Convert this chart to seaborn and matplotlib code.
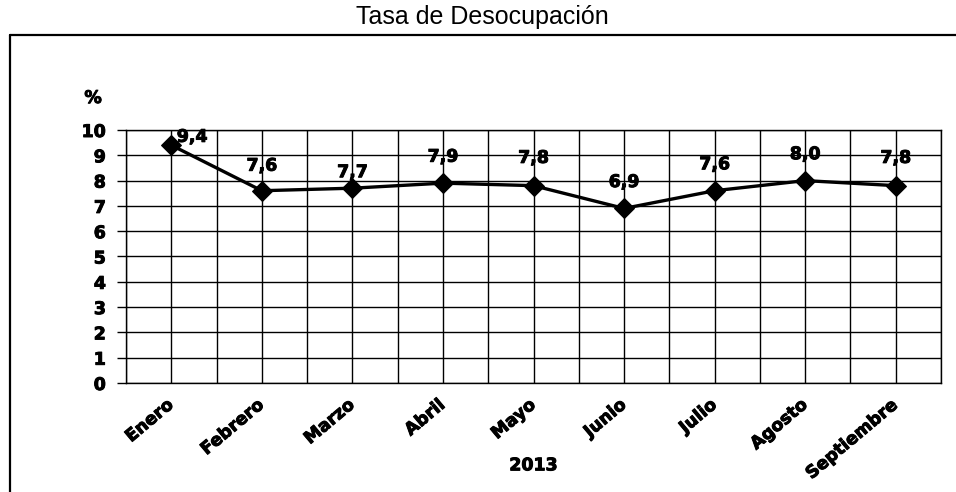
import matplotlib
matplotlib.use('Agg')
import matplotlib.pyplot as plt
import matplotlib.patheffects as pe
import seaborn as sns
import pandas as pd
from matplotlib.lines import Line2D
from matplotlib.ticker import FixedLocator

meses = ['Enero', 'Febrero', 'Marzo', 'Abril', 'Mayo', 'Junio',
         'Julio', 'Agosto', 'Septiembre']
tasa = [9.4, 7.6, 7.7, 7.9, 7.8, 6.9, 7.6, 8.0, 7.8]
etiquetas = ['9,4', '7,6', '7,7', '7,9', '7,8', '6,9', '7,6', '8,0', '7,8']
y_ticks = list(range(0, 11))

# offsets of the value labels, in points
label_offsets = [(15, 6), (0, 18), (0, 11.5), (0, 19), (0, 20),
                 (0, 19), (0, 19), (0, 19), (0, 20)]

sns.set_style('white')
plt.rcParams['font.family'] = ['DejaVu Sans']
plt.rcParams['text.color'] = 'black'
plt.rcParams['xtick.color'] = 'black'
plt.rcParams['ytick.color'] = 'black'
plt.rcParams['axes.labelcolor'] = 'black'

heavy = [pe.withStroke(linewidth=0.7, foreground='black')]
FS = 12.5

W, H = 956, 492
fig = plt.figure(figsize=(W / 100, H / 100), dpi=100)
ax = fig.add_axes([126 / W, 1 - 383 / H, (941 - 126) / W, (383 - 130) / H])

df = pd.DataFrame({'mes': meses, 'tasa': tasa})
sns.lineplot(data=df, x='mes', y='tasa', sort=False, ax=ax, color='black',
             linewidth=2.4, marker='D', markersize=10, markeredgecolor='black')

for i, (v, lab) in enumerate(zip(tasa, etiquetas)):
    ax.annotate(lab, (i, v), xytext=label_offsets[i], textcoords='offset points',
                ha='center', va='center', fontsize=FS, fontweight='bold',
                path_effects=heavy)

ax.set_xlim(-0.5, len(meses) - 0.5)
ax.set_ylim(0, 10)
ax.set_yticks(y_ticks)
ax.set_yticklabels([str(t) for t in y_ticks], fontsize=FS, fontweight='bold')
ax.xaxis.set_minor_locator(FixedLocator([i + 0.5 for i in range(-1, len(meses))]))
ax.set_xticks(range(len(meses)))
ax.set_xticklabels(meses, rotation=40, ha='right', va='center',
                   rotation_mode='anchor', fontsize=FS, fontweight='bold')
for t in ax.get_xticklabels() + ax.get_yticklabels():
    t.set_path_effects(heavy)
ax.tick_params(axis='x', which='both', length=0, pad=14)
ax.tick_params(axis='y', which='major', length=6.5, width=1, color='black',
               direction='out', pad=8, left=True)

ax.grid(True, which='major', axis='both', color='black', linewidth=1)
ax.grid(True, which='minor', axis='x', color='black', linewidth=1)
for s in ax.spines.values():
    s.set_visible(True)
    s.set_color('black')
    s.set_linewidth(1)

ax.set_xlabel('2013', fontsize=FS, fontweight='bold', path_effects=heavy)
ax.xaxis.set_label_coords(0.5, -0.29)
ax.set_ylabel('')

fig.text(93 / W, 1 - 98 / H, '%', ha='center', va='center',
         fontsize=FS, fontweight='bold', path_effects=heavy)

fig.text(482 / W, 1 - 17 / H, 'Tasa de Desocupación', ha='center', va='center',
         fontsize=18, family=['Liberation Sans', 'DejaVu Sans'])

# frame around the chart
fig.add_artist(Line2D([10 / W, 1], [1 - 35 / H] * 2, transform=fig.transFigure,
                      color='black', linewidth=1.6))
fig.add_artist(Line2D([10 / W] * 2, [0, 1 - 35 / H], transform=fig.transFigure,
                      color='black', linewidth=1.6))

fig.savefig('out.png', dpi=100)
plt.close(fig)
